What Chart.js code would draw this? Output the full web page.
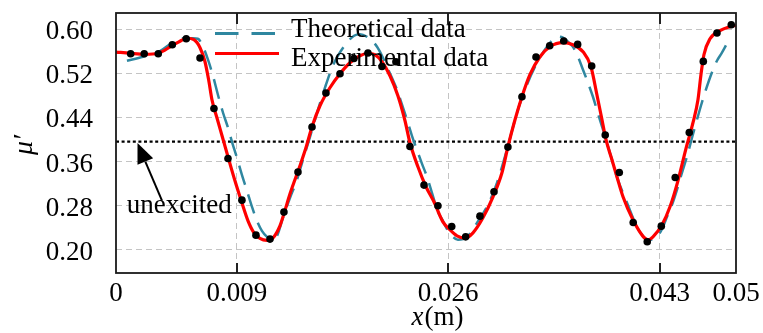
<!DOCTYPE html>
<html>
<head>
<meta charset="utf-8">
<script src="https://cdn.jsdelivr.net/npm/chart.js@4/dist/chart.umd.min.js"></script>
<style>
  html, body { margin: 0; padding: 0; background: #ffffff; }
  canvas { display: block; }
</style>
</head>
<body>
<canvas id="chart" width="763" height="333"></canvas>
<script>
// ---------------- DATA ----------------
// x axis range (m) and ticks
const xMin = -0.00073;
const xMax = 0.04915;
const xTickValues = [xMin, 0.009, 0.026, 0.043, xMax];
const xTickLabels = ['0', '0.009', '0.026', '0.043', '0.05'];

// y axis range (μ') and ticks
const yMin = 0.158;
const yMax = 0.629;
const yTickValues = [0.20, 0.28, 0.36, 0.44, 0.52, 0.60];

// unexcited level
const unexcitedLevel = 0.396;

// Measured points (black dots)
const dotX = [0.00045,0.00154,0.00267,0.00380,0.00492,0.00603,0.00715,0.00828,0.00940,0.01053,
  0.01166,0.01278,0.01391,0.01504,0.01616,0.01729,0.01841,0.01954,0.02067,0.02179,
  0.02292,0.02405,0.02517,0.02628,0.02740,0.02855,0.02968,0.03080,0.03193,0.03306,
  0.03416,0.03529,0.03641,0.03754,0.03863,0.03976,0.04088,0.04201,0.04314,0.04426,
  0.04539,0.04652,0.04762,0.04877];
const dotY = [0.5552,0.5552,0.5552,0.5715,0.5824,0.5474,0.4561,0.3655,0.2900,0.2266,
  0.2194,0.2683,0.3408,0.4224,0.4840,0.5190,0.5467,0.5565,0.5322,0.5407,
  0.3872,0.3172,0.2797,0.2422,0.2235,0.2610,0.3051,0.3861,0.4773,0.5492,
  0.5697,0.5782,0.5721,0.5331,0.4079,0.3401,0.2494,0.2145,0.2429,0.3310,
  0.4126,0.5413,0.5927,0.6078];

// Experimental data (red curve)
const expX = [-0.00073,0.00039,0.00160,0.00265,0.00377,0.00442,0.00498,0.00554,0.00603,0.00643,
  0.00675,0.00699,0.00739,0.00780,0.00828,0.00884,0.00940,0.00989,0.01037,0.01085,
  0.01142,0.01190,0.01246,0.01278,0.01327,0.01407,0.01455,0.01504,0.01568,0.01648,
  0.01729,0.01809,0.01890,0.01954,0.02010,0.02067,0.02131,0.02195,0.02252,0.02292,
  0.02356,0.02421,0.02485,0.02557,0.02614,0.02670,0.02735,0.02799,0.02879,0.02960,
  0.03032,0.03080,0.03137,0.03193,0.03257,0.03338,0.03418,0.03523,0.03603,0.03684,
  0.03748,0.03796,0.03837,0.03869,0.03917,0.03957,0.04006,0.04086,0.04167,0.04207,
  0.04247,0.04320,0.04384,0.04448,0.04512,0.04569,0.04609,0.04633,0.04657,0.04706,
  0.04786,0.04866,0.04915];
const expY = [0.5583,0.5561,0.5543,0.5561,0.5697,0.5779,0.5833,0.5806,0.5661,0.5407,
  0.5045,0.4719,0.4392,0.4066,0.3685,0.3250,0.2852,0.2525,0.2308,0.2208,
  0.2172,0.2217,0.2435,0.2652,0.3015,0.3522,0.3848,0.4229,0.4610,0.4936,
  0.5190,0.5389,0.5516,0.5561,0.5534,0.5407,0.5154,0.4791,0.4338,0.3939,
  0.3504,0.3142,0.2870,0.2507,0.2362,0.2253,0.2212,0.2308,0.2580,0.2960,
  0.3395,0.3867,0.4356,0.4773,0.5172,0.5498,0.5679,0.5752,0.5715,0.5589,
  0.5317,0.4809,0.4356,0.3994,0.3631,0.3323,0.2960,0.2543,0.2244,0.2181,
  0.2235,0.2453,0.2779,0.3250,0.3830,0.4302,0.4719,0.5172,0.5534,0.5824,
  0.5969,0.6042,0.6069];

// Theoretical data (teal dashed curve)
const theoX = [0.00015,0.00144,0.00281,0.00385,0.00466,0.00546,0.00586,0.00627,0.00667,0.00707,
  0.00747,0.00788,0.00828,0.00860,0.00900,0.00940,0.00981,0.01021,0.01061,0.01101,
  0.01142,0.01182,0.01222,0.01270,0.01327,0.01383,0.01431,0.01488,0.01552,0.01616,
  0.01665,0.01713,0.01785,0.01842,0.01890,0.01946,0.01986,0.02027,0.02067,0.02107,
  0.02147,0.02188,0.02228,0.02268,0.02308,0.02348,0.02389,0.02429,0.02469,0.02517,
  0.02557,0.02598,0.02638,0.02678,0.02751,0.02831,0.02911,0.02992,0.03072,0.03153,
  0.03233,0.03314,0.03394,0.03442,0.03483,0.03523,0.03563,0.03603,0.03644,0.03684,
  0.03724,0.03764,0.03805,0.03845,0.03901,0.03957,0.04038,0.04118,0.04158,0.04199,
  0.04239,0.04279,0.04320,0.04360,0.04400,0.04440,0.04480,0.04520,0.04561,0.04601,
  0.04633,0.04665,0.04697,0.04730,0.04762,0.04802,0.04850];
const theoY = [0.5425,0.5498,0.5598,0.5761,0.5833,0.5833,0.5824,0.5679,0.5444,0.5154,
  0.4809,0.4483,0.4211,0.3957,0.3667,0.3359,0.3069,0.2779,0.2525,0.2344,
  0.2235,0.2181,0.2253,0.2580,0.2942,0.3268,0.3631,0.4048,0.4537,0.4990,
  0.5299,0.5516,0.5752,0.5879,0.5906,0.5860,0.5788,0.5679,0.5516,0.5317,
  0.5117,0.4900,0.4628,0.4356,0.4066,0.3812,0.3558,0.3323,0.3033,0.2688,
  0.2525,0.2344,0.2235,0.2181,0.2235,0.2489,0.2779,0.3214,0.3812,0.4483,
  0.4990,0.5389,0.5679,0.5806,0.5860,0.5842,0.5770,0.5679,0.5498,0.5262,
  0.5027,0.4773,0.4465,0.4175,0.3758,0.3323,0.2852,0.2417,0.2272,0.2181,
  0.2181,0.2235,0.2380,0.2598,0.2815,0.3087,0.3395,0.3685,0.4030,0.4356,
  0.4610,0.4845,0.5063,0.5262,0.5425,0.5570,0.5770];

// Legend / annotation texts
const legendLabels = ['Theoretical data', 'Experimental data'];
const annotationText = 'unexcited';
const xTitleItalic = 'x';
const xTitleRest = '(m)';
const yTitle = 'μ′';

// ---------------- STYLE ----------------
const SERIF = '"Liberation Serif", "Times New Roman", Times, serif';
const RED = '#ff0000';
const TEAL = '#2f87a0';
const GRID = '#c4c4c4';

const zip = (xs, ys) => xs.map((x, i) => ({ x: x, y: ys[i] }));

const decorPlugin = {
  id: 'decor',
  afterDraw(chart) {
    const { ctx, chartArea: a, scales } = chart;
    const xs = scales.x, ys = scales.y;
    ctx.save();

    // inward tick marks at top and bottom
    ctx.strokeStyle = '#222';
    ctx.lineWidth = 2;
    ctx.setLineDash([]);
    [0.009, 0.026, 0.043].forEach(v => {
      const px = Math.round(xs.getPixelForValue(v));
      ctx.beginPath();
      ctx.moveTo(px, a.top); ctx.lineTo(px, a.top + 11);
      ctx.moveTo(px, a.bottom); ctx.lineTo(px, a.bottom - 10);
      ctx.stroke();
    });

    // frame
    ctx.strokeStyle = '#1a1a1a';
    ctx.lineWidth = 1.8;
    ctx.strokeRect(a.left, a.top, a.right - a.left, a.bottom - a.top);

    // legend
    const lx0 = a.left + 99, lx1 = a.left + 162, tx = a.left + 175;
    const ly1 = a.top + 20.5, ly2 = a.top + 40.5;
    ctx.lineWidth = 3;
    ctx.strokeStyle = TEAL;
    ctx.setLineDash([23.5, 13]);
    ctx.beginPath(); ctx.moveTo(lx0, ly1); ctx.lineTo(lx1, ly1); ctx.stroke();
    ctx.setLineDash([]);
    ctx.strokeStyle = RED;
    ctx.beginPath(); ctx.moveTo(lx0, ly2); ctx.lineTo(lx1 + 1, ly2); ctx.stroke();
    ctx.fillStyle = '#000';
    ctx.font = '27px ' + SERIF;
    ctx.textAlign = 'left';
    ctx.textBaseline = 'alphabetic';
    ctx.fillText(legendLabels[0], tx, a.top + 23.5);
    ctx.fillText(legendLabels[1], tx, a.top + 52.5);

    // annotation: arrow + text
    const tipX = xs.getPixelForValue(0.00100), tipY = ys.getPixelForValue(unexcitedLevel) + 1.5;
    const tailX = xs.getPixelForValue(0.00297), tailY = ys.getPixelForValue(0.289);
    const ang = Math.atan2(tipY - tailY, tipX - tailX);
    const hl = 20, hw = 8.5;
    const bx = tipX - hl * Math.cos(ang), by = tipY - hl * Math.sin(ang);
    ctx.strokeStyle = '#000';
    ctx.lineWidth = 2;
    ctx.beginPath(); ctx.moveTo(tailX, tailY); ctx.lineTo(bx, by); ctx.stroke();
    ctx.beginPath();
    ctx.moveTo(tipX, tipY);
    ctx.lineTo(bx + hw * Math.sin(ang), by - hw * Math.cos(ang));
    ctx.lineTo(bx - hw * Math.sin(ang), by + hw * Math.cos(ang));
    ctx.closePath();
    ctx.fill();
    ctx.font = '27px ' + SERIF;
    ctx.fillText(annotationText, xs.getPixelForValue(0.00013), ys.getPixelForValue(0.2665));

    // x axis title: italic x + (m)
    ctx.font = 'italic 27px ' + SERIF;
    const w1 = ctx.measureText(xTitleItalic).width;
    ctx.font = '27px ' + SERIF;
    const w2 = ctx.measureText(xTitleRest).width;
    const cx = (a.left + a.right) / 2 + 11;
    const startX = cx - (w1 + w2) / 2;
    const baseY = a.bottom + 52;
    ctx.font = 'italic 27px ' + SERIF;
    ctx.fillText(xTitleItalic, startX, baseY);
    ctx.font = '27px ' + SERIF;
    ctx.fillText(xTitleRest, startX + w1 + 1, baseY);

    // y axis title
    ctx.save();
    ctx.translate(32, (a.top + a.bottom) / 2 + 2);
    ctx.rotate(-Math.PI / 2);
    ctx.font = 'italic 28px ' + SERIF;
    ctx.textAlign = 'center';
    ctx.fillText(yTitle, 0, 0);
    ctx.restore();

    ctx.restore();
  }
};

new Chart(document.getElementById('chart'), {
  type: 'scatter',
  data: {
    datasets: [
      {
        label: 'Measured points',
        data: zip(dotX, dotY),
        showLine: false,
        pointRadius: 3.8,
        pointBackgroundColor: '#000',
        pointBorderWidth: 0
      },
      {
        label: legendLabels[1],
        data: zip(expX, expY),
        showLine: true,
        borderColor: RED,
        borderWidth: 3.2,
        pointRadius: 0,
        cubicInterpolationMode: 'monotone'
      },
      {
        label: legendLabels[0],
        data: zip(theoX, theoY),
        showLine: true,
        borderColor: TEAL,
        borderWidth: 2.5,
        borderDash: [20, 10],
        pointRadius: 0,
        cubicInterpolationMode: 'monotone'
      },
      {
        label: annotationText,
        data: [{ x: xMin, y: unexcitedLevel }, { x: xMax, y: unexcitedLevel }],
        showLine: true,
        borderColor: '#000',
        borderWidth: 2.2,
        borderDash: [3, 2.6],
        pointRadius: 0
      }
    ]
  },
  options: {
    responsive: false,
    animation: false,
    devicePixelRatio: 1,
    layout: { padding: { top: 13, right: 27, bottom: 0, left: 0 } },
    plugins: { legend: { display: false }, tooltip: { enabled: false } },
    scales: {
      x: {
        type: 'linear',
        min: xMin,
        max: xMax,
        afterBuildTicks: s => { s.ticks = xTickValues.map(v => ({ value: v })); },
        afterFit: s => { s.height = 60; s.paddingLeft = 0; s.paddingRight = 0; },
        ticks: {
          autoSkip: false,
          maxRotation: 0,
          padding: 5,
          color: '#000',
          font: { family: SERIF, size: 27 },
          callback: (v, i) => xTickLabels[i]
        },
        grid: {
          drawTicks: false,
          lineWidth: 1,
          color: c => (c.index === 0 || c.index === xTickValues.length - 1) ? 'rgba(0,0,0,0)' : GRID
        },
        border: { display: false, dash: [6, 4] }
      },
      y: {
        type: 'linear',
        min: yMin,
        max: yMax,
        afterBuildTicks: s => { s.ticks = yTickValues.map(v => ({ value: v })); },
        afterFit: s => { s.width = 116; s.paddingTop = 0; s.paddingBottom = 0; },
        ticks: {
          padding: 23,
          color: '#000',
          labelOffset: 3,
          font: { family: SERIF, size: 27 },
          callback: v => Number(v).toFixed(2)
        },
        grid: { drawTicks: false, lineWidth: 1, color: GRID },
        border: { display: false, dash: [6, 4] }
      }
    }
  },
  plugins: [decorPlugin]
});
</script>
</body>
</html>
